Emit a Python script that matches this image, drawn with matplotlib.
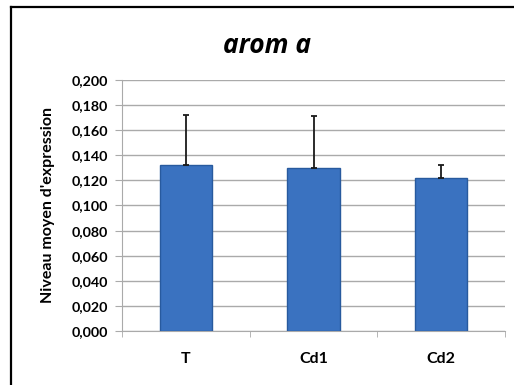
import numpy as np
import matplotlib.pyplot as plt
from matplotlib.lines import Line2D
from matplotlib.ticker import FuncFormatter

plt.rcParams['font.family'] = ['Lato', 'DejaVu Sans']

# valeurs
categories = ['T', 'Cd1', 'Cd2']
niveau = [0.132, 0.130, 0.122]
erreur = [0.040, 0.041, 0.010]
yticks = [0.0, 0.02, 0.04, 0.06, 0.08, 0.10, 0.12, 0.14, 0.16, 0.18, 0.20]

fig = plt.figure(figsize=(5.14, 3.85), dpi=100)
ax = fig.add_axes([0.2374, 0.1403, 0.7451, 0.6519])

x = np.arange(len(categories))
ax.bar(x, niveau, width=0.41, color='#3a72c0', edgecolor='#285a9e', linewidth=1.0, zorder=3)
ax.errorbar(x, niveau, yerr=[np.zeros(len(erreur)), erreur], fmt='none',
            ecolor='#1a1a1a', elinewidth=1.3, capsize=2.5, capthick=1.3, zorder=4)

ax.set_xlim(-0.5, 2.5)
ax.set_ylim(0, 0.2)
ax.set_yticks(yticks)
ax.yaxis.set_major_formatter(FuncFormatter(lambda v, p: ('%.3f' % v).replace('.', ',')))
ax.grid(axis='y', color='#aaaaaa', linewidth=1.0, zorder=0)

# ticks de l'axe x entre les categories
ax.set_xticks(x)
ax.set_xticklabels(categories, fontsize=11.5, fontweight='bold')
ax.set_xticks([-0.5, 0.5, 1.5, 2.5], minor=True)
ax.tick_params(axis='x', which='major', length=0, pad=15)
ax.tick_params(axis='x', which='minor', length=4, color='#aaaaaa', direction='out')
ax.tick_params(axis='y', length=5, color='#aaaaaa', labelsize=10.3, pad=5)
for lab in ax.get_yticklabels():
    lab.set_fontweight('bold')

for s in ['top', 'right']:
    ax.spines[s].set_visible(False)
ax.spines['left'].set_color('#aaaaaa')
ax.spines['bottom'].set_color('#aaaaaa')

fig.text(0.093, 0.467, "Niveau moyen d'expression", fontsize=11.5, fontweight='bold',
         rotation=90, ha='center', va='center')
fig.text(0.52, 0.883, 'arom a', fontsize=19, fontweight='bold', style='italic',
         family=['Open Sans', 'DejaVu Sans'], ha='center', va='center')

# cadre (coupe a droite et en bas)
fig.add_artist(Line2D([0.022, 0.022], [0.0, 0.982], color='black', linewidth=1.6, transform=fig.transFigure))
fig.add_artist(Line2D([0.022, 1.0], [0.982, 0.982], color='black', linewidth=1.6, transform=fig.transFigure))

fig.savefig('out.png', dpi=100)
